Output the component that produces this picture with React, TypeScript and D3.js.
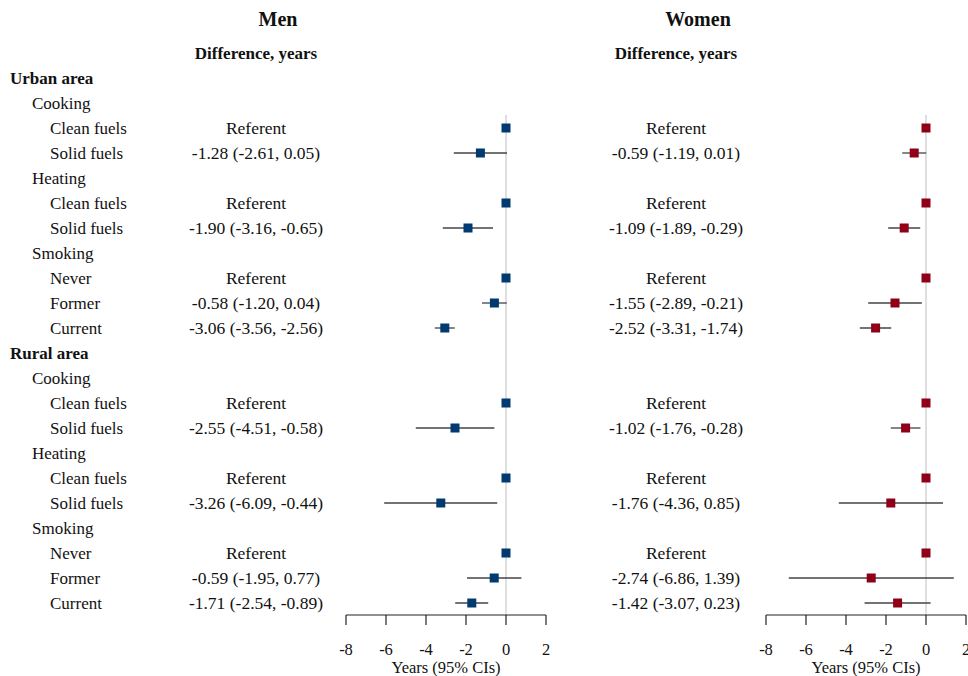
import React from 'react';
import { scaleLinear, scaleBand } from 'd3';

const rowLabels = [
  'Urban area', 'Cooking', 'Clean fuels', 'Solid fuels', 'Heating', 'Clean fuels', 'Solid fuels',
  'Smoking', 'Never', 'Former', 'Current',
  'Rural area', 'Cooking', 'Clean fuels', 'Solid fuels', 'Heating', 'Clean fuels', 'Solid fuels',
  'Smoking', 'Never', 'Former', 'Current',
];
const rowLevels = [0, 1, 2, 2, 1, 2, 2, 1, 2, 2, 2, 0, 1, 2, 2, 1, 2, 2, 1, 2, 2, 2];
// null = heading row, 'ref' = referent
const menEst = [null, null, 'ref', -1.28, null, 'ref', -1.90, null, 'ref', -0.58, -3.06,
  null, null, 'ref', -2.55, null, 'ref', -3.26, null, 'ref', -0.59, -1.71];
const menLow = [null, null, 0, -2.61, null, 0, -3.16, null, 0, -1.20, -3.56,
  null, null, 0, -4.51, null, 0, -6.09, null, 0, -1.95, -2.54];
const menHigh = [null, null, 0, 0.05, null, 0, -0.65, null, 0, 0.04, -2.56,
  null, null, 0, -0.58, null, 0, -0.44, null, 0, 0.77, -0.89];
const womenEst = [null, null, 'ref', -0.59, null, 'ref', -1.09, null, 'ref', -1.55, -2.52,
  null, null, 'ref', -1.02, null, 'ref', -1.76, null, 'ref', -2.74, -1.42];
const womenLow = [null, null, 0, -1.19, null, 0, -1.89, null, 0, -2.89, -3.31,
  null, null, 0, -1.76, null, 0, -4.36, null, 0, -6.86, -3.07];
const womenHigh = [null, null, 0, 0.01, null, 0, -0.29, null, 0, -0.21, -1.74,
  null, null, 0, -0.28, null, 0, 0.85, null, 0, 1.39, 0.23];
const xTicks = [-8, -6, -4, -2, 0, 2];

const font = '"Liberation Serif", "Times New Roman", serif';
const fmt = (v: number) => v.toFixed(2);

function Panel({ title, est, low, high, color, textX, axisX0, y }: any) {
  const x = scaleLinear().domain([-8, 2]).range([axisX0, axisX0 + 200]);
  const axisY = 615;
  return (
    <g>
      <text x={textX + 22} y={26} textAnchor="middle" fontWeight="bold" fontSize={20}>{title}</text>
      <text x={textX} y={59} textAnchor="middle" fontWeight="bold" fontSize={17}>Difference, years</text>
      <line x1={x(0)} x2={x(0)} y1={115} y2={axisY} stroke="#d4d4d4" strokeWidth={1.5} />
      {est.map((e: any, i: number) => {
        if (e === null) return null;
        const cy = (y(String(i)) as number) + y.bandwidth() / 2;
        const isRef = e === 'ref';
        const v = isRef ? 0 : (e as number);
        return (
          <g key={i}>
            <text x={textX} y={cy + 6} textAnchor="middle" fontSize={17.5}>
              {isRef ? 'Referent' : `${fmt(v)} (${fmt(low[i])}, ${fmt(high[i])})`}
            </text>
            {!isRef && (
              <line x1={x(low[i])} x2={x(high[i])} y1={cy} y2={cy} stroke="#444" strokeWidth={1.3} />
            )}
            <rect x={x(v) - 4.5} y={cy - 4.5} width={9} height={9} fill={color} />
          </g>
        );
      })}
      <line x1={x(-8)} x2={x(2)} y1={axisY} y2={axisY} stroke="#222" strokeWidth={1.2} />
      {xTicks.map((t) => (
        <g key={t}>
          <line x1={x(t)} x2={x(t)} y1={axisY} y2={axisY + 10} stroke="#222" strokeWidth={1.2} />
          <text x={x(t)} y={axisY + 40} textAnchor="middle" fontSize={16.5}>{t}</text>
        </g>
      ))}
      <text x={x(-3)} y={axisY + 58} textAnchor="middle" fontSize={16.5}>Years (95% CIs)</text>
    </g>
  );
}

export default function App() {
  const y = scaleBand<string>()
    .domain(rowLabels.map((_, i) => String(i)))
    .range([65.5, 615.5]);
  return (
    <svg width={968} height={676} style={{ position: 'absolute', left: 0, top: 0, background: '#fff' }}
      fontFamily={font} fill="#111">
      {rowLabels.map((lab, i) => {
        const cy = (y(String(i)) as number) + y.bandwidth() / 2;
        const lvl = rowLevels[i];
        return (
          <text key={i} x={[10, 32, 50][lvl]} y={cy + 6} fontSize={17} fontWeight={lvl === 0 ? 'bold' : 'normal'}>
            {lab}
          </text>
        );
      })}
      <Panel title="Men" est={menEst} low={menLow} high={menHigh} color="#003a70" textX={256} axisX0={346} y={y} />
      <Panel title="Women" est={womenEst} low={womenLow} high={womenHigh} color="#8f0018" textX={676} axisX0={766} y={y} />
    </svg>
  );
}
